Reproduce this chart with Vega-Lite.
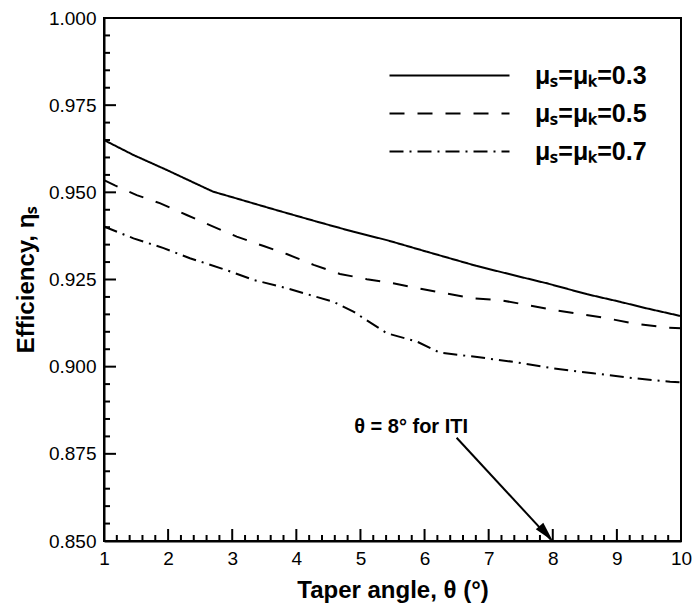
{
  "$schema": "https://vega.github.io/schema/vega-lite/v6.json",
  "width": 577,
  "height": 523,
  "autosize": {"type": "none"},
  "padding": {"left": 104, "top": 18, "right": 11, "bottom": 71},
  "background": "white",
  "config": {
    "font": "Liberation Sans",
    "view": {"stroke": "black", "strokeWidth": 2},
    "axis": {"grid": false, "labelColor": "black", "titleColor": "black", "tickColor": "black", "domainColor": "black", "labelFlush": false, "labelOverlap": false, "labelBound": false}
  },
  "datasets": {
    "curves": [
      {"theta": 1.0, "eff": 0.965, "mu": "μₛ=μₖ=0.3"},
      {"theta": 1.46, "eff": 0.9607, "mu": "μₛ=μₖ=0.3"},
      {"theta": 1.98, "eff": 0.9564, "mu": "μₛ=μₖ=0.3"},
      {"theta": 2.7, "eff": 0.9502, "mu": "μₛ=μₖ=0.3"},
      {"theta": 3.02, "eff": 0.9485, "mu": "μₛ=μₖ=0.3"},
      {"theta": 3.69, "eff": 0.9449, "mu": "μₛ=μₖ=0.3"},
      {"theta": 4.32, "eff": 0.9416, "mu": "μₛ=μₖ=0.3"},
      {"theta": 4.89, "eff": 0.9387, "mu": "μₛ=μₖ=0.3"},
      {"theta": 5.41, "eff": 0.9363, "mu": "μₛ=μₖ=0.3"},
      {"theta": 6.03, "eff": 0.933, "mu": "μₛ=μₖ=0.3"},
      {"theta": 6.81, "eff": 0.9289, "mu": "μₛ=μₖ=0.3"},
      {"theta": 7.44, "eff": 0.926, "mu": "μₛ=μₖ=0.3"},
      {"theta": 7.91, "eff": 0.9239, "mu": "μₛ=μₖ=0.3"},
      {"theta": 8.53, "eff": 0.9208, "mu": "μₛ=μₖ=0.3"},
      {"theta": 9.05, "eff": 0.9186, "mu": "μₛ=μₖ=0.3"},
      {"theta": 9.47, "eff": 0.9167, "mu": "μₛ=μₖ=0.3"},
      {"theta": 10.0, "eff": 0.9145, "mu": "μₛ=μₖ=0.3"},
      {"theta": 1.0, "eff": 0.9535, "mu": "μₛ=μₖ=0.5"},
      {"theta": 1.17, "eff": 0.952, "mu": "μₛ=μₖ=0.5"},
      {"theta": 1.51, "eff": 0.9492, "mu": "μₛ=μₖ=0.5"},
      {"theta": 1.87, "eff": 0.9469, "mu": "μₛ=μₖ=0.5"},
      {"theta": 2.29, "eff": 0.9435, "mu": "μₛ=μₖ=0.5"},
      {"theta": 2.65, "eff": 0.9406, "mu": "μₛ=μₖ=0.5"},
      {"theta": 3.07, "eff": 0.9373, "mu": "μₛ=μₖ=0.5"},
      {"theta": 3.49, "eff": 0.9346, "mu": "μₛ=μₖ=0.5"},
      {"theta": 3.85, "eff": 0.9323, "mu": "μₛ=μₖ=0.5"},
      {"theta": 4.27, "eff": 0.9292, "mu": "μₛ=μₖ=0.5"},
      {"theta": 4.68, "eff": 0.9266, "mu": "μₛ=μₖ=0.5"},
      {"theta": 5.1, "eff": 0.9251, "mu": "μₛ=μₖ=0.5"},
      {"theta": 5.51, "eff": 0.9239, "mu": "μₛ=μₖ=0.5"},
      {"theta": 5.98, "eff": 0.9222, "mu": "μₛ=μₖ=0.5"},
      {"theta": 6.76, "eff": 0.9196, "mu": "μₛ=μₖ=0.5"},
      {"theta": 7.18, "eff": 0.9191, "mu": "μₛ=μₖ=0.5"},
      {"theta": 8.01, "eff": 0.9163, "mu": "μₛ=μₖ=0.5"},
      {"theta": 8.84, "eff": 0.9139, "mu": "μₛ=μₖ=0.5"},
      {"theta": 9.26, "eff": 0.9124, "mu": "μₛ=μₖ=0.5"},
      {"theta": 9.78, "eff": 0.9112, "mu": "μₛ=μₖ=0.5"},
      {"theta": 10.0, "eff": 0.911, "mu": "μₛ=μₖ=0.5"},
      {"theta": 1.0, "eff": 0.9402, "mu": "μₛ=μₖ=0.7"},
      {"theta": 1.46, "eff": 0.9368, "mu": "μₛ=μₖ=0.7"},
      {"theta": 1.93, "eff": 0.934, "mu": "μₛ=μₖ=0.7"},
      {"theta": 2.34, "eff": 0.9311, "mu": "μₛ=μₖ=0.7"},
      {"theta": 2.91, "eff": 0.9277, "mu": "μₛ=μₖ=0.7"},
      {"theta": 3.33, "eff": 0.9249, "mu": "μₛ=μₖ=0.7"},
      {"theta": 3.85, "eff": 0.9225, "mu": "μₛ=μₖ=0.7"},
      {"theta": 4.58, "eff": 0.9186, "mu": "μₛ=μₖ=0.7"},
      {"theta": 4.89, "eff": 0.9158, "mu": "μₛ=μₖ=0.7"},
      {"theta": 5.41, "eff": 0.9096, "mu": "μₛ=μₖ=0.7"},
      {"theta": 5.88, "eff": 0.9072, "mu": "μₛ=μₖ=0.7"},
      {"theta": 6.24, "eff": 0.904, "mu": "μₛ=μₖ=0.7"},
      {"theta": 6.76, "eff": 0.9029, "mu": "μₛ=μₖ=0.7"},
      {"theta": 7.38, "eff": 0.9014, "mu": "μₛ=μₖ=0.7"},
      {"theta": 8.01, "eff": 0.8995, "mu": "μₛ=μₖ=0.7"},
      {"theta": 8.63, "eff": 0.8981, "mu": "μₛ=μₖ=0.7"},
      {"theta": 9.26, "eff": 0.8967, "mu": "μₛ=μₖ=0.7"},
      {"theta": 9.83, "eff": 0.8957, "mu": "μₛ=μₖ=0.7"},
      {"theta": 10.0, "eff": 0.8955, "mu": "μₛ=μₖ=0.7"}
    ],
    "xmajor": [{"pos": 2}, {"pos": 3}, {"pos": 4}, {"pos": 5}, {"pos": 6}, {"pos": 7}, {"pos": 8}, {"pos": 9}],
    "xminor": [
      {"pos": 1.2}, {"pos": 1.4}, {"pos": 1.6}, {"pos": 1.8}, {"pos": 2.2}, {"pos": 2.4}, {"pos": 2.6}, {"pos": 2.8},
      {"pos": 3.2}, {"pos": 3.4}, {"pos": 3.6}, {"pos": 3.8}, {"pos": 4.2}, {"pos": 4.4}, {"pos": 4.6}, {"pos": 4.8},
      {"pos": 5.2}, {"pos": 5.4}, {"pos": 5.6}, {"pos": 5.8}, {"pos": 6.2}, {"pos": 6.4}, {"pos": 6.6}, {"pos": 6.8},
      {"pos": 7.2}, {"pos": 7.4}, {"pos": 7.6}, {"pos": 7.8}, {"pos": 8.2}, {"pos": 8.4}, {"pos": 8.6}, {"pos": 8.8},
      {"pos": 9.2}, {"pos": 9.4}, {"pos": 9.6}, {"pos": 9.8}
    ],
    "ymajor": [{"pos": 0.875}, {"pos": 0.9}, {"pos": 0.925}, {"pos": 0.95}, {"pos": 0.975}],
    "yminor": [
      {"pos": 0.855}, {"pos": 0.86}, {"pos": 0.865}, {"pos": 0.87}, {"pos": 0.88}, {"pos": 0.885}, {"pos": 0.89}, {"pos": 0.895},
      {"pos": 0.905}, {"pos": 0.91}, {"pos": 0.915}, {"pos": 0.92}, {"pos": 0.93}, {"pos": 0.935}, {"pos": 0.94}, {"pos": 0.945},
      {"pos": 0.955}, {"pos": 0.96}, {"pos": 0.965}, {"pos": 0.97}, {"pos": 0.98}, {"pos": 0.985}, {"pos": 0.99}, {"pos": 0.995}
    ],
    "arrow": [
      {"theta": 6.5, "eff": 0.8796},
      {"theta": 7.97, "eff": 0.8504}
    ],
    "arrowhead": [
      {"theta": 8.0, "eff": 0.85}
    ],
    "note": [
      {"theta": 5.79, "eff": 0.8828, "label": "θ = 8° for ITI"}
    ]
  },
  "layer": [
    {
      "data": {"name": "curves"},
      "mark": {"type": "line", "color": "black", "strokeWidth": 2},
      "encoding": {
        "x": {
          "field": "theta", "type": "quantitative",
          "scale": {"domain": [1, 10], "nice": false, "zero": false},
          "axis": {"orient": "bottom", "values": [1, 2, 3, 4, 5, 6, 7, 8, 9, 10], "format": "d", "ticks": false, "domainWidth": 2, "labelFontSize": 19, "labelPadding": 8, "title": "Taper angle, θ (°)", "titleFontSize": 24, "titleFontWeight": "bold", "titlePadding": 10}
        },
        "y": {
          "field": "eff", "type": "quantitative",
          "scale": {"domain": [0.85, 1.0], "nice": false, "zero": false},
          "axis": {"orient": "left", "values": [0.85, 0.875, 0.9, 0.925, 0.95, 0.975, 1.0], "format": ".3f", "ticks": false, "domainWidth": 2, "labelFontSize": 19, "labelPadding": 8, "title": "Efficiency, ηₛ", "titleFontSize": 24, "titleFontWeight": "bold", "titlePadding": 10}
        },
        "strokeDash": {
          "field": "mu", "type": "nominal",
          "scale": {"domain": ["μₛ=μₖ=0.3", "μₛ=μₖ=0.5", "μₛ=μₖ=0.7"], "range": [[1, 0], [15, 13], [14, 6, 2, 6]]},
          "legend": {
            "orient": "none", "legendX": 333, "legendY": 45, "title": null, "padding": 0,
            "symbolType": "M-6,0H6", "symbolSize": 400, "symbolStrokeColor": "black", "symbolStrokeWidth": 2, "symbolFillColor": "transparent",
            "labelFontSize": 25, "labelFontWeight": "bold", "labelColor": "black", "labelOffset": 73, "rowPadding": 12, "labelLimit": 300
          }
        }
      }
    },
    {
      "data": {"name": "xmajor"},
      "mark": {"type": "tick", "orient": "vertical", "color": "black", "opacity": 1, "thickness": 2, "size": 12, "yOffset": -6},
      "encoding": {
        "x": {"field": "pos", "type": "quantitative"},
        "y": {"datum": 0.85, "type": "quantitative"}
      }
    },
    {
      "data": {"name": "xminor"},
      "mark": {"type": "tick", "orient": "vertical", "color": "black", "opacity": 1, "thickness": 2, "size": 6, "yOffset": -3},
      "encoding": {
        "x": {"field": "pos", "type": "quantitative"},
        "y": {"datum": 0.85, "type": "quantitative"}
      }
    },
    {
      "data": {"name": "ymajor"},
      "mark": {"type": "tick", "orient": "horizontal", "color": "black", "opacity": 1, "thickness": 2, "size": 12, "xOffset": 6},
      "encoding": {
        "y": {"field": "pos", "type": "quantitative"},
        "x": {"datum": 1, "type": "quantitative"}
      }
    },
    {
      "data": {"name": "yminor"},
      "mark": {"type": "tick", "orient": "horizontal", "color": "black", "opacity": 1, "thickness": 2, "size": 6, "xOffset": 3},
      "encoding": {
        "y": {"field": "pos", "type": "quantitative"},
        "x": {"datum": 1, "type": "quantitative"}
      }
    },
    {
      "data": {"name": "arrow"},
      "mark": {"type": "line", "color": "black", "strokeWidth": 2},
      "encoding": {
        "x": {"field": "theta", "type": "quantitative"},
        "y": {"field": "eff", "type": "quantitative"}
      }
    },
    {
      "data": {"name": "arrowhead"},
      "mark": {"type": "point", "shape": "M0,0L-0.5,2L0.5,2Z", "filled": true, "color": "black", "opacity": 1, "size": 400, "angle": 138.6},
      "encoding": {
        "x": {"field": "theta", "type": "quantitative"},
        "y": {"field": "eff", "type": "quantitative"}
      }
    },
    {
      "data": {"name": "note"},
      "mark": {"type": "text", "fontWeight": "bold", "fontSize": 20, "align": "center", "baseline": "middle", "color": "black"},
      "encoding": {
        "x": {"field": "theta", "type": "quantitative"},
        "y": {"field": "eff", "type": "quantitative"},
        "text": {"field": "label"}
      }
    }
  ]
}
